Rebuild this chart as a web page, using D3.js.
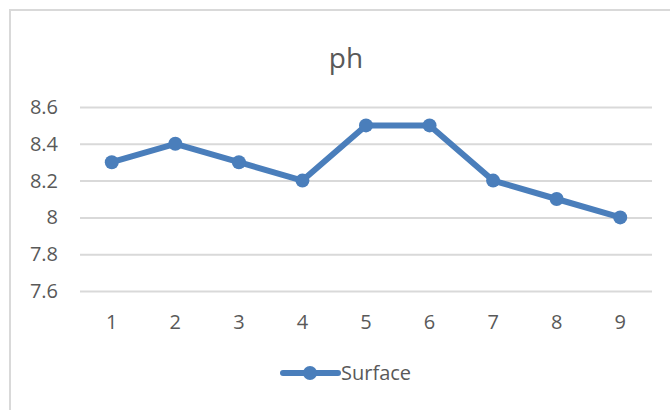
<!DOCTYPE html>
<html>
<head>
<meta charset="utf-8">
<script src="https://cdn.jsdelivr.net/npm/d3@7"></script>
<style>
  body { margin: 0; background: #fff; }
  text { font-family: "Open Sans", "Noto Sans", sans-serif; fill: #595959; }
</style>
</head>
<body>
<svg id="chart" width="670" height="410"></svg>
<script>
// chart data
let categories = ["1", "2", "3", "4", "5", "6", "7", "8", "9"]
let surface = [8.3, 8.4, 8.3, 8.2, 8.5, 8.5, 8.2, 8.1, 8.0]
let y_ticks = [7.6, 7.8, 8, 8.2, 8.4, 8.6]
let series_name = "Surface"
let title = "ph"

let color = "#4a7ebb"
let grid_color = "#d9d9d9"

let svg = d3.select("#chart")

// outer chart frame (runs off right/bottom edge like the screenshot)
svg.append("rect")
    .attr("x", 10).attr("y", 10)
    .attr("width", 720).attr("height", 460)
    .attr("fill", "#fff")
    .attr("stroke", grid_color).attr("stroke-width", 2)

let plot = { left: 80, right: 652, top: 107, bottom: 291 }

let x = d3.scaleBand().domain(categories).range([plot.left, plot.right])
let y = d3.scaleLinear().domain([7.6, 8.6]).range([plot.bottom, plot.top])

svg.append("text")
    .attr("x", 346).attr("y", 68)
    .attr("text-anchor", "middle")
    .attr("font-size", "28px")
    .text(title)

// gridlines + y labels
let y_axis = svg.append("g")
    .attr("transform", `translate(${plot.left},0)`)
    .call(d3.axisLeft(y).tickValues(y_ticks).tickFormat(d => String(d))
        .tickSize(-(plot.right - plot.left)).tickPadding(22))
y_axis.select(".domain").remove()
y_axis.selectAll("line").attr("stroke", grid_color).attr("stroke-width", 2)
y_axis.selectAll("text").attr("font-size", "20px").attr("fill", "#595959")

let x_axis = svg.append("g")
    .attr("transform", `translate(0,${plot.bottom})`)
    .call(d3.axisBottom(x).tickSize(0).tickPadding(24))
x_axis.select(".domain").remove()
x_axis.selectAll("text").attr("font-size", "20px").attr("fill", "#595959")

let line = d3.line()
    .x((d, i) => x(categories[i]) + x.bandwidth() / 2)
    .y(d => y(d))

svg.append("path")
    .datum(surface)
    .attr("d", line)
    .attr("fill", "none")
    .attr("stroke", color)
    .attr("stroke-width", 6)
    .attr("stroke-linejoin", "round")

svg.append("g").selectAll("circle")
    .data(surface)
    .join("circle")
    .attr("cx", (d, i) => x(categories[i]) + x.bandwidth() / 2)
    .attr("cy", d => y(d))
    .attr("r", 7)
    .attr("fill", color)

// legend
let legend = svg.append("g").attr("transform", "translate(283,373)")
legend.append("line")
    .attr("x1", 0).attr("x2", 55)
    .attr("stroke", color).attr("stroke-width", 6).attr("stroke-linecap", "round")
legend.append("circle").attr("cx", 27).attr("r", 7).attr("fill", color)
legend.append("text")
    .attr("x", 58).attr("y", 7)
    .attr("font-size", "20px")
    .text(series_name)
</script>
</body>
</html>
